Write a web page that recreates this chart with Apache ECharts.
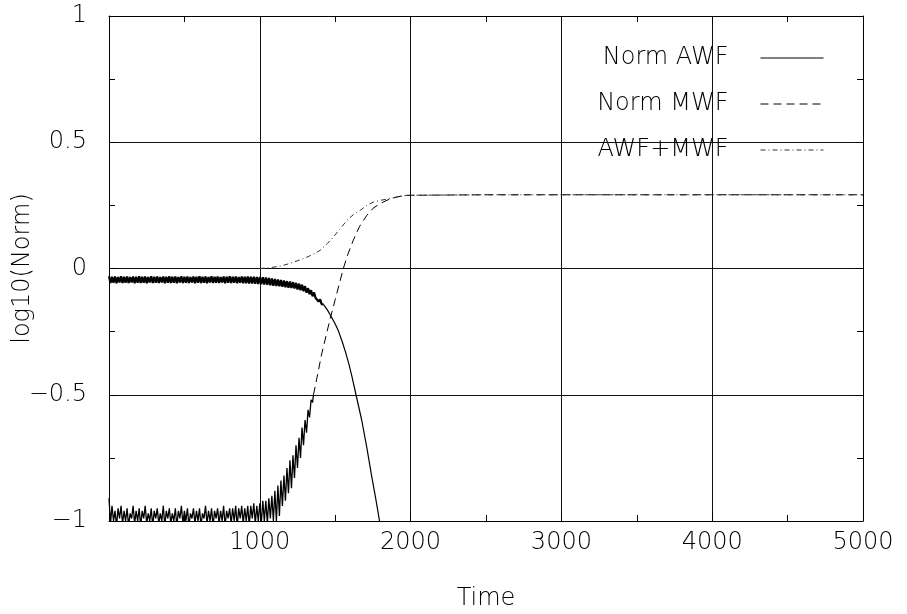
<!DOCTYPE html>
<html>
<head>
<meta charset="utf-8">
<script src="https://cdn.jsdelivr.net/npm/echarts@6/dist/echarts.min.js"></script>
<style>
html,body{margin:0;padding:0;background:#fff;}
#chart{width:907px;height:614px;}
</style>
</head>
<body>
<div id="chart"></div>
<script>
// ---- data ----
const seriesNames = ['Norm AWF', 'Norm MWF', 'AWF+MWF'];
const xTickValues = [0, 1000, 2000, 3000, 4000, 5000];
const yTickValues = [-1, -0.5, 0, 0.5, 1];

// Norm AWF, noisy early part: thick band near -0.044
const awfNoiseData = [
 [0,-0.031],[10,-0.057],[20,-0.033],[30,-0.056],[40,-0.032],[50,-0.058],[60,-0.034],[70,-0.055],[80,-0.031],[90,-0.057],
 [100,-0.033],[110,-0.056],[120,-0.032],[130,-0.057],[140,-0.034],[150,-0.055],[160,-0.032],[170,-0.058],[180,-0.033],[190,-0.056],
 [200,-0.031],[210,-0.057],[220,-0.033],[230,-0.056],[240,-0.032],[250,-0.058],[260,-0.034],[270,-0.055],[280,-0.031],[290,-0.057],
 [300,-0.033],[310,-0.056],[320,-0.032],[330,-0.057],[340,-0.034],[350,-0.055],[360,-0.032],[370,-0.058],[380,-0.033],[390,-0.056],
 [400,-0.031],[410,-0.057],[420,-0.033],[430,-0.056],[440,-0.032],[450,-0.058],[460,-0.034],[470,-0.055],[480,-0.031],[490,-0.057],
 [500,-0.033],[510,-0.056],[520,-0.032],[530,-0.057],[540,-0.034],[550,-0.055],[560,-0.032],[570,-0.058],[580,-0.033],[590,-0.056],
 [600,-0.031],[610,-0.057],[620,-0.033],[630,-0.056],[640,-0.032],[650,-0.058],[660,-0.034],[670,-0.055],[680,-0.031],[690,-0.057],
 [700,-0.033],[710,-0.056],[720,-0.032],[730,-0.057],[740,-0.034],[750,-0.055],[760,-0.032],[770,-0.058],[780,-0.033],[790,-0.056],
 [800,-0.031],[810,-0.057],[820,-0.033],[830,-0.056],[840,-0.032],[850,-0.058],[860,-0.034],[870,-0.056],[880,-0.032],[890,-0.058],
 [900,-0.033],[910,-0.058],[920,-0.032],[930,-0.059],[940,-0.033],[950,-0.059],[960,-0.033],[970,-0.060],[980,-0.034],[990,-0.061],
 [1000,-0.034],[1010,-0.062],[1020,-0.035],[1030,-0.063],[1040,-0.036],[1050,-0.064],[1060,-0.038],[1070,-0.066],[1080,-0.040],[1090,-0.068],
 [1100,-0.042],[1110,-0.069],[1120,-0.044],[1130,-0.070],[1140,-0.046],[1150,-0.072],[1160,-0.048],[1170,-0.074],[1180,-0.050],[1190,-0.076],
 [1200,-0.052],[1210,-0.077],[1220,-0.054],[1230,-0.079],[1240,-0.057],[1250,-0.083],[1260,-0.060],[1270,-0.086],[1280,-0.064],[1290,-0.090],
 [1300,-0.070],[1310,-0.096],[1320,-0.078],[1330,-0.102],[1340,-0.086],[1350,-0.110],[1360,-0.095],[1370,-0.117],[1380,-0.110],[1390,-0.131],
 [1400,-0.122],[1410,-0.141],[1422,-0.142]
];

// Norm AWF (solid): fall-off
const awfData = [
 [1422,-0.142],[1450,-0.166],[1477,-0.194],[1500,-0.220],[1521,-0.247],[1545,-0.287],[1566,-0.326],
 [1590,-0.377],[1610,-0.425],[1638,-0.500],[1676,-0.601],[1710,-0.710],[1743,-0.826],[1770,-0.915],[1793,-0.997],[1800,-1.020]
];

// Norm MWF, noisy early part: dense band near -1
const mwfNoiseData = [
 [0,-0.91],[10,-1.01],[20,-0.94],[30,-1.00],[40,-0.96],[50,-1.02],[60,-0.95],[70,-0.99],[80,-0.94],[90,-1.01],
 [100,-0.96],[110,-1.00],[120,-0.95],[130,-1.02],[140,-0.97],[150,-0.99],[160,-0.94],[170,-1.01],[180,-0.96],[190,-1.00],
 [200,-0.95],[210,-1.02],[220,-0.96],[230,-0.99],[240,-0.94],[250,-1.01],[260,-0.97],[270,-1.00],[280,-0.95],[290,-1.02],
 [300,-0.96],[310,-0.99],[320,-0.95],[330,-1.01],[340,-0.97],[350,-1.00],[360,-0.94],[370,-1.02],[380,-0.96],[390,-0.99],
 [400,-0.95],[410,-1.01],[420,-0.97],[430,-1.00],[440,-0.95],[450,-1.02],[460,-0.96],[470,-0.99],[480,-0.94],[490,-1.01],
 [500,-0.96],[510,-1.00],[520,-0.95],[530,-1.02],[540,-0.97],[550,-0.99],[560,-0.95],[570,-1.01],[580,-0.96],[590,-1.00],
 [600,-0.95],[610,-1.02],[620,-0.97],[630,-0.99],[640,-0.94],[650,-1.01],[660,-0.96],[670,-1.00],[680,-0.95],[690,-1.02],
 [700,-0.96],[710,-0.99],[720,-0.95],[730,-1.01],[740,-0.96],[750,-1.00],[760,-0.94],[770,-1.02],[780,-0.96],[790,-0.99],
 [800,-0.95],[810,-1.01],[820,-0.95],[830,-1.00],[840,-0.94],[850,-1.02],[860,-0.95],[870,-0.99],[880,-0.94],[890,-1.01],
 [900,-0.95],[910,-1.00],[920,-0.94],[930,-1.02],[940,-0.94],[950,-0.99],[960,-0.93],[970,-1.01],[980,-0.94],[990,-1.00],
 [1000,-0.93],[1010,-1.01],[1020,-0.92],[1030,-1.00],[1040,-0.92],[1050,-1.01],[1060,-0.91],[1070,-0.99],[1080,-0.90],[1090,-1.00],
 [1100,-0.88],[1110,-1.00],[1120,-0.86],[1130,-0.98],[1140,-0.84],[1150,-0.94],[1160,-0.82],[1170,-0.92],[1180,-0.79],[1190,-0.89],
 [1200,-0.76],[1210,-0.87],[1220,-0.74],[1230,-0.83],[1240,-0.70],[1250,-0.79],[1260,-0.67],[1270,-0.75],[1280,-0.63],[1290,-0.70],
 [1300,-0.60],[1310,-0.65],[1320,-0.56],[1330,-0.59],[1340,-0.52],[1350,-0.53],[1356,-0.50]
];

// Norm MWF (dashed): smooth rise, saturates near 0.29
const mwfData = [
 [1356,-0.50],[1380,-0.43],[1410,-0.339],[1440,-0.265],[1466,-0.200],[1500,-0.123],[1532,-0.050],[1554,0.0],[1580,0.05],
 [1620,0.112],[1660,0.165],[1709,0.21],[1750,0.238],[1797,0.257],[1850,0.272],[1908,0.283],[1950,0.288],[2000,0.290],
 [2500,0.292],[3000,0.292],[4000,0.292],[5000,0.292]
];

// AWF+MWF (dash-dot)
const sumData = [
 [1000,0.0],[1050,0.002],[1134,0.009],[1200,0.02],[1289,0.039],[1350,0.055],[1400,0.072],[1450,0.10],[1488,0.125],
 [1530,0.155],[1577,0.19],[1620,0.213],[1665,0.23],[1710,0.25],[1753,0.263],[1800,0.27],[1864,0.277],[1920,0.285],
 [1975,0.29],[2500,0.292],[3000,0.292],[4000,0.292],[5000,0.292]
];

// ---- chart ----
const FONT = "'DejaVu Sans', sans-serif";
const chart = echarts.init(document.getElementById('chart'), null, {renderer: 'canvas'});

const fmtX = v => (xTickValues.indexOf(v) > 0 ? String(v) : '');
const fmtY = v => (yTickValues.indexOf(v) >= 0 ? String(v).replace('-', '\u2212') : '');

const axisCommon = {
  axisLine: {show: true, onZero: false, lineStyle: {color: '#000', width: 1}},
  axisTick: {show: true, inside: true, length: 8, lineStyle: {color: '#000'}},
  minorTick: {show: true, splitNumber: 2, length: 6, lineStyle: {color: '#000'}},
  minorSplitLine: {show: false}
};

chart.setOption({
  animation: false,
  backgroundColor: '#fff',
  grid: {left: 109, right: 44, top: 16, bottom: 93, containLabel: false, outerBoundsMode: 'none'},
  legend: {
    orient: 'vertical',
    right: 78,
    top: 41,
    align: 'right',
    itemWidth: 63,
    itemHeight: 24,
    itemGap: 22,
    data: seriesNames,
    selectedMode: false,
    itemStyle: {opacity: 0},
    lineStyle: {width: 1},
    textStyle: {fontFamily: FONT, fontSize: 24, fontWeight: 200, color: '#000', padding: [0, 27, 0, 0], lineHeight: 24}
  },
  xAxis: [
    Object.assign({
      type: 'value', min: 0, max: 5000, interval: 1000, position: 'bottom',
      splitLine: {show: true, lineStyle: {color: '#111', width: 1}},
      axisLabel: {formatter: fmtX, fontFamily: FONT, fontSize: 24, fontWeight: 200, color: '#000', margin: 10},
      name: 'Time', nameLocation: 'middle', nameGap: 66, nameMoveOverlap: false,
      nameTextStyle: {fontFamily: FONT, fontSize: 24, fontWeight: 200, color: '#000'}
    }, axisCommon),
    Object.assign({
      type: 'value', min: 0, max: 5000, interval: 1000, position: 'top',
      splitLine: {show: false}, axisLabel: {show: false}
    }, axisCommon)
  ],
  yAxis: [
    Object.assign({
      type: 'value', min: -1, max: 1, interval: 0.5, position: 'left',
      splitLine: {show: true, lineStyle: {color: '#111', width: 1}},
      axisLabel: {formatter: fmtY, fontFamily: FONT, fontSize: 24, fontWeight: 200, color: '#000', margin: 22},
      name: 'log10(Norm)', nameLocation: 'middle', nameGap: 74, nameMoveOverlap: false,
      nameTextStyle: {fontFamily: FONT, fontSize: 24, fontWeight: 200, color: '#000'}
    }, axisCommon),
    Object.assign({
      type: 'value', min: -1, max: 1, interval: 0.5, position: 'right',
      splitLine: {show: false}, axisLabel: {show: false}
    }, axisCommon)
  ],
  series: [
    {
      name: seriesNames[0], type: 'line', data: awfData,
      symbol: 'none', clip: true,
      lineStyle: {color: '#000', width: 1.2, type: 'solid'},
      itemStyle: {color: '#000'}
    },
    {
      name: seriesNames[1], type: 'line', data: mwfData,
      symbol: 'none', clip: true,
      lineStyle: {color: '#000', width: 1, type: [8, 5]},
      itemStyle: {color: '#000'}
    },
    {
      name: seriesNames[2], type: 'line', data: sumData,
      symbol: 'none', clip: true,
      lineStyle: {color: '#333', width: 1, type: [5, 3, 1, 3]},
      itemStyle: {color: '#333'}
    },
    {
      name: 'Norm AWF (early)', type: 'line', data: awfNoiseData,
      symbol: 'none', clip: true,
      lineStyle: {color: '#000', width: 2.2, type: 'solid'},
      itemStyle: {color: '#000'}
    },
    {
      name: 'Norm MWF (early)', type: 'line', data: mwfNoiseData,
      symbol: 'none', clip: true,
      lineStyle: {color: '#000', width: 1.3, type: 'solid'},
      itemStyle: {color: '#000'}
    }
  ]
});
</script>
</body>
</html>
